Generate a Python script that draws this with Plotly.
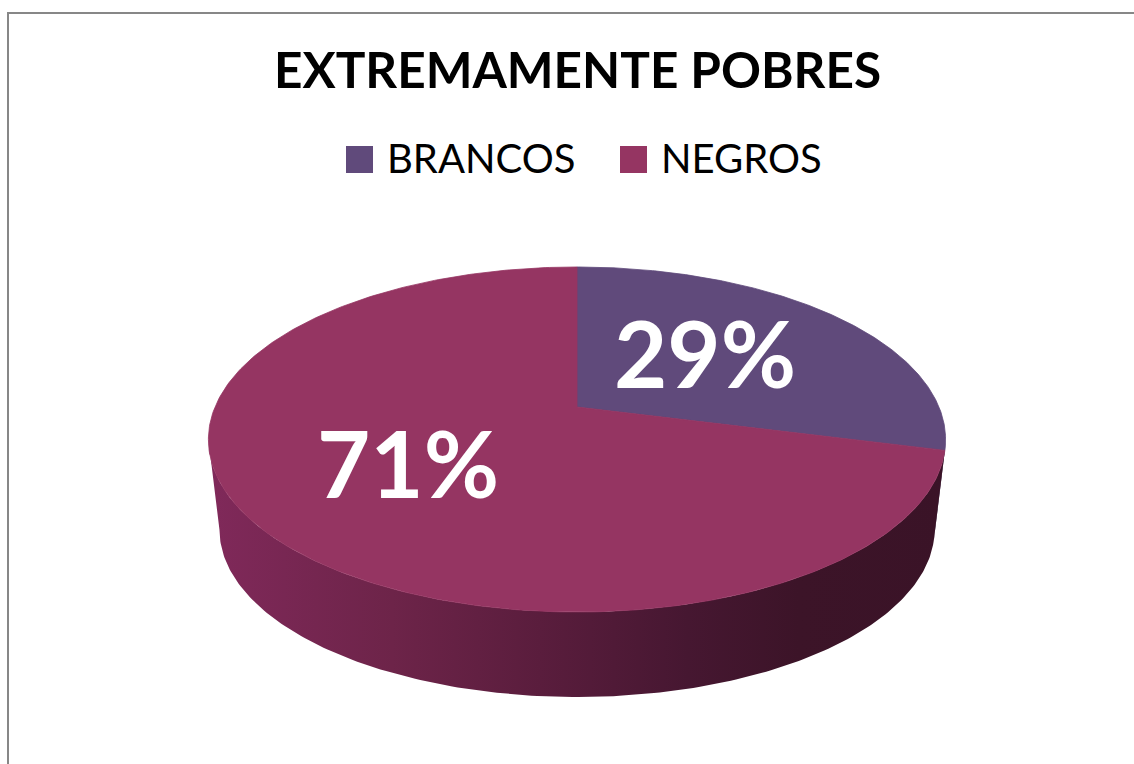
import numpy as np
import plotly.graph_objects as go

# Chart data
title = "EXTREMAMENTE POBRES"
categories = ["BRANCOS", "NEGROS"]
values = [29, 71]

# Styling
top_colors = ["#604A7B", "#953562"]
side_scales = [
    [[0, "#3E2E50"], [1, "#3E2E50"]],
    [[0, "#80295A"], [0.25, "#6D2449"], [0.45, "#5A1D3D"], [0.65, "#461731"],
     [0.8, "#3C1428"], [1, "#3A1327"]],
]
label_pos = [(705, 352), (408, 462)]

W, H = 1134, 764
# Tilted-disc projection (pixel space)
CX, CY = 577, 407
RX, RY = 362, 166.4
K = 0.1884
FRONT_BOTTOM = 697   # lowest point of the base rim
BASE_SCALE = 0.97    # base appears slightly smaller (farther from the eye)
CY_BASE = FRONT_BOTTOM - BASE_SCALE * RY / (1 - K)


def project(theta, r=1.0, base=False):
    u = r * np.sin(theta)
    v = r * np.cos(theta)
    w = 1 + K * v
    if base:
        return CX + BASE_SCALE * RX * u / w, CY_BASE - BASE_SCALE * RY * v / w
    return CX + RX * u / w, CY - RY * v / w


fracs = np.array(values, dtype=float) / np.sum(values)
bounds = np.concatenate([[0], np.cumsum(fracs)]) * 2 * np.pi
theta_r = np.arccos(-K)
theta_l = 2 * np.pi - theta_r

fig = go.Figure()

# visible side walls
for i, cat in enumerate(categories):
    s = max(bounds[i], theta_r)
    e = min(bounds[i + 1], theta_l)
    if e <= s:
        continue
    t = np.linspace(s, e, 200)
    xt, yt = project(t)
    xb, yb = project(t[::-1], base=True)
    xs = np.concatenate([xt, xb, xt[:1]])
    ys = np.concatenate([yt, yb, yt[:1]])
    fig.add_trace(go.Scatter(
        x=xs, y=ys, mode="lines", fill="toself",
        line=dict(width=0),
        fillgradient=dict(type="horizontal", colorscale=side_scales[i],
                          start=CX - RX * 1.02, stop=CX + RX * 1.02),
        hoverinfo="skip", showlegend=False,
    ))

# top faces
for i, cat in enumerate(categories):
    t = np.linspace(bounds[i], bounds[i + 1], 300)
    xa, ya = project(t)
    xs = np.concatenate([[CX], xa, [CX]])
    ys = np.concatenate([[CY], ya, [CY]])
    fig.add_trace(go.Scatter(
        x=xs, y=ys, mode="lines", fill="toself",
        fillcolor=top_colors[i],
        line=dict(color=top_colors[i], width=0.8),
        name=cat, hoverinfo="name", showlegend=False,
    ))

# percentage labels
annotations = []
for i, v in enumerate(values):
    lx, ly = label_pos[i]
    annotations.append(dict(
        x=lx, y=ly, xref="x", yref="y", text=f"<b>{v}%</b>", showarrow=False,
        font=dict(family="Lato", size=92, color="white"),
        xanchor="center", yanchor="middle",
    ))

# title
annotations.append(dict(
    x=577, y=69, xref="x", yref="y", text=f"<b>{title}</b>", showarrow=False,
    font=dict(family="Lato", size=49.5, color="black"),
    xanchor="center", yanchor="middle",
))

# legend
shapes = []
legend_x = [346, 620]
for i, cat in enumerate(categories):
    x0 = legend_x[i]
    shapes.append(dict(type="rect", xref="x", yref="y", x0=x0, x1=x0 + 27,
                       y0=146, y1=173, fillcolor=top_colors[i], line=dict(width=0)))
    annotations.append(dict(
        x=x0 + 39, y=158, xref="x", yref="y", text=cat, showarrow=False,
        font=dict(family="Lato", size=40, color="black"),
        xanchor="left", yanchor="middle",
    ))

# chart frame
shapes.append(dict(type="rect", xref="x", yref="y", x0=8, y0=13, x1=W + 20, y1=H + 20,
                   line=dict(color="#878787", width=2), fillcolor="rgba(0,0,0,0)",
                   layer="below"))

fig.update_layout(
    width=W, height=H,
    margin=dict(l=0, r=0, t=0, b=0),
    paper_bgcolor="white", plot_bgcolor="white",
    xaxis=dict(range=[0, W], visible=False, fixedrange=True),
    yaxis=dict(range=[H, 0], visible=False, fixedrange=True),
    annotations=annotations, shapes=shapes,
    showlegend=False,
)

fig.write_html("out.html")
